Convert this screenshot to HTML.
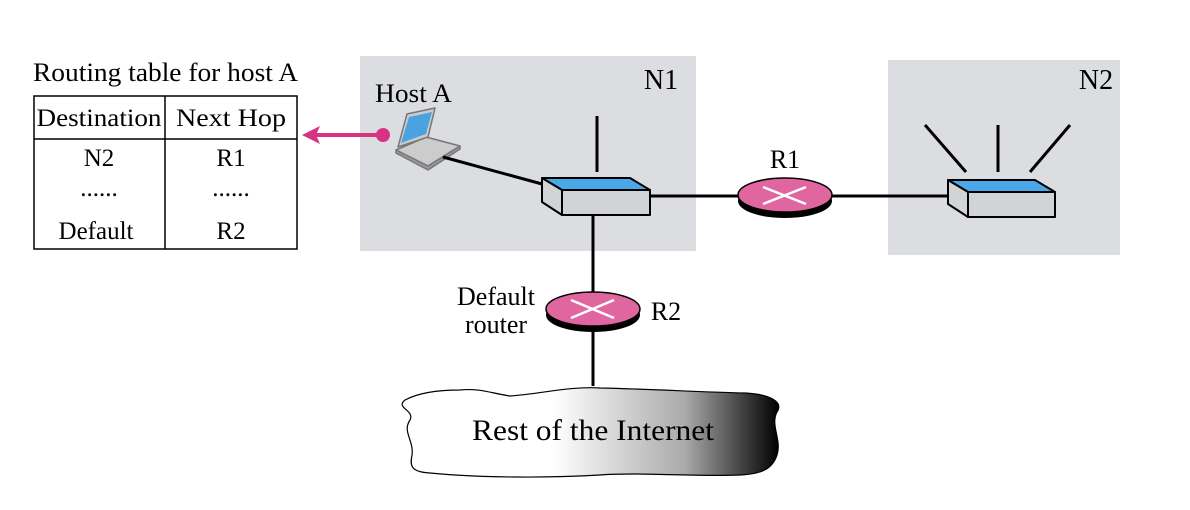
<!DOCTYPE html>
<html><head><meta charset="utf-8"><style>
html,body{margin:0;padding:0;background:#fff;}
svg{display:block;font-family:"Liberation Serif",serif;}
</style></head><body>
<svg width="1190" height="510" viewBox="0 0 1190 510">
<defs>
<linearGradient id="cg" x1="0" x2="1" y1="0" y2="0">
<stop offset="0" stop-color="#fff"/><stop offset="0.4" stop-color="#fff"/><stop offset="0.75" stop-color="#aaa"/><stop offset="1" stop-color="#000"/>
</linearGradient>
</defs>
<rect x="360" y="56" width="336" height="195" fill="#dcdde0"/>
<rect x="888" y="60" width="232" height="195" fill="#dcdde0"/>
<text x="661" y="89" font-size="28" text-anchor="middle">N1</text>
<text x="1096" y="89" font-size="28" text-anchor="middle">N2</text>
<text x="33" y="81" font-size="26" textLength="265" lengthAdjust="spacingAndGlyphs">Routing table for host A</text>
<rect x="34" y="96" width="263" height="153" fill="#fff" stroke="#000" stroke-width="1.5"/>
<line x1="34" y1="139" x2="297" y2="139" stroke="#000" stroke-width="1.5"/>
<line x1="165" y1="96" x2="165" y2="249" stroke="#000" stroke-width="1.5"/>
<g font-size="25" text-anchor="middle">
<text x="99" y="126" textLength="125" lengthAdjust="spacingAndGlyphs">Destination</text><text x="231" y="126" textLength="110" lengthAdjust="spacingAndGlyphs">Next Hop</text>
<text x="99" y="166">N2</text><text x="231" y="166">R1</text>
<text x="99" y="196">......</text><text x="231" y="196">......</text>
<text x="96" y="239">Default</text><text x="231" y="239">R2</text>
</g>
<line x1="316" y1="135" x2="383" y2="135" stroke="#d63384" stroke-width="4"/>
<circle cx="383" cy="135" r="7" fill="#d63384"/>
<polygon points="302,135 320,126 316,135 320,144" fill="#d63384"/>
<text x="375" y="102" font-size="26" textLength="77" lengthAdjust="spacingAndGlyphs">Host A</text>
<g stroke="#777" stroke-width="1.5" stroke-linejoin="round">
<polygon points="396,150 426,137 460,146 428,166" fill="#ccc"/>
<polygon points="396,150 396,153 428,170 460,149 460,146 428,166" fill="#999"/>
<polygon points="398,147 407,114 435,108 428,137" fill="#ccc"/>
<polygon points="401,143 409,117 432,112 426,134" fill="#4aa3e0" stroke="none"/>
</g>
<g stroke="#000" stroke-width="3">
<line x1="443" y1="157" x2="542" y2="184"/>
<line x1="597" y1="116" x2="597" y2="172"/>
<line x1="650" y1="196" x2="740" y2="196"/>
<line x1="830" y1="196" x2="950" y2="196"/>
<line x1="593" y1="215" x2="593" y2="386"/>
<line x1="925" y1="125" x2="966" y2="172"/>
<line x1="998" y1="125" x2="998" y2="172"/>
<line x1="1070" y1="125" x2="1030" y2="172"/>
</g>
<g stroke="#000" stroke-width="2" stroke-linejoin="round">
<polygon points="542,178 630,178 650,190 562,190" fill="#4aa8e8"/>
<polygon points="542,178 562,190 562,215 542,202" fill="#d2d3d5"/>
<rect x="562" y="190" width="88" height="25" fill="#d2d3d5"/>
</g>
<g stroke="#000" stroke-width="2" stroke-linejoin="round">
<polygon points="948,180 1035,180 1055,192 968,192" fill="#4aa8e8"/>
<polygon points="948,180 968,192 968,217 948,204" fill="#d2d3d5"/>
<rect x="968" y="192" width="87" height="25" fill="#d2d3d5"/>
</g>
<ellipse cx="785" cy="201" rx="47" ry="17" fill="#000"/>
<ellipse cx="785" cy="195" rx="47" ry="17" fill="#e066a0" stroke="#000" stroke-width="1.5"/>
<g stroke="#fff" stroke-width="2.5"><line x1="763" y1="187" x2="806" y2="204"/><line x1="763" y1="204" x2="806" y2="187"/></g>
<text x="785" y="168" font-size="26" text-anchor="middle">R1</text>
<ellipse cx="593" cy="315" rx="47" ry="17" fill="#000"/>
<ellipse cx="593" cy="309" rx="47" ry="17" fill="#e066a0" stroke="#000" stroke-width="1.5"/>
<g stroke="#fff" stroke-width="2.5"><line x1="571" y1="300" x2="614" y2="318"/><line x1="571" y1="318" x2="614" y2="300"/></g>
<text x="666" y="320" font-size="26" text-anchor="middle">R2</text>
<text x="496" y="305" font-size="26" text-anchor="middle">Default</text>
<text x="496" y="333" font-size="26" text-anchor="middle">router</text>
<path d="M405,400 C420,392 440,390 460,390 C480,388 490,393 510,396 C540,394 570,386 600,388 C650,389 700,392 745,393 C765,394 785,400 777,412 C770,425 782,440 777,455 C772,470 760,474 740,475 C700,477 640,472 600,475 C550,478 480,478 430,473 C410,472 410,465 412,455 C414,440 402,432 410,420 C415,410 395,408 405,400 Z" fill="url(#cg)" stroke="#000" stroke-width="1.2"/>
<text x="593" y="440" font-size="30" text-anchor="middle" textLength="242" lengthAdjust="spacingAndGlyphs">Rest of the Internet</text>
</svg>
</body></html>
